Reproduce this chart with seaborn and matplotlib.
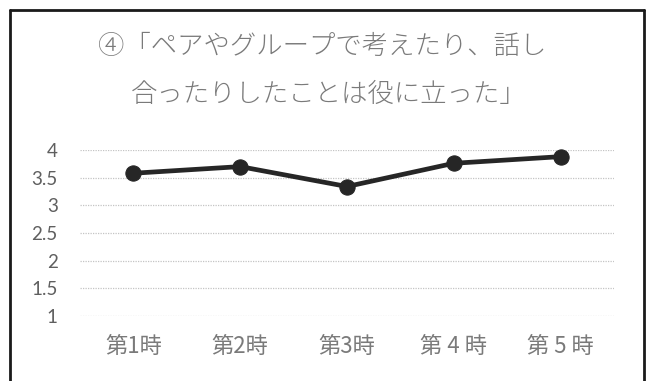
import matplotlib
matplotlib.use("Agg")
import matplotlib.pyplot as plt
from matplotlib.lines import Line2D
import seaborn as sns
import pandas as pd

sessions = ["第1時", "第2時", "第3時", "第 4 時", "第 5 時"]
scores = [3.58, 3.70, 3.34, 3.76, 3.88]
y_ticks = [1, 1.5, 2, 2.5, 3, 3.5, 4]
y_tick_labels = ["1", "1.5", "2", "2.5", "3", "3.5", "4"]
title_lines = ["④「ペアやグループで考えたり、話し", "合ったりしたことは役に立った」"]

sns.set_theme(style="white")
plt.rcParams["font.family"] = ["Noto Sans CJK JP", "DejaVu Sans"]

W, H = 647, 381
fig = plt.figure(figsize=(W / 100, H / 100), dpi=100)
ax = fig.add_axes([80 / W, 1 - 316 / H, (614 - 80) / W, (316 - 150) / H])

df = pd.DataFrame({"session": sessions, "score": scores})
df["pos"] = range(len(df))
sns.lineplot(data=df, x="pos", y="score", ax=ax, color="#262626",
             linewidth=3.4, marker="o", markersize=11,
             markeredgecolor="#262626", clip_on=False, zorder=3)

ax.set_xlim(-0.5, len(sessions) - 0.5)
ax.set_ylim(1, 4)
ax.set_yticks(y_ticks)
ax.set_yticklabels(y_tick_labels)
ax.set_xticks(range(len(sessions)))
ax.set_xticklabels(sessions)
ax.set_xlabel("")
ax.set_ylabel("")
ax.tick_params(axis="y", length=0, pad=16, labelsize=13.5, labelcolor="#5f5f5f")
ax.tick_params(axis="x", length=0, pad=14, labelsize=16, labelcolor="#7a7a7a")
for lab in ax.get_yticklabels():
    lab.set_fontfamily(["Lato", "DejaVu Sans"])

for y in y_ticks:
    ax.axhline(y, color="#c4c4c4", linewidth=0.9, linestyle=(0, (1, 1)), zorder=1)
for s in ax.spines.values():
    s.set_visible(False)

fig.text(322 / W, 1 - 46 / H, title_lines[0], ha="center", va="center",
         fontsize=19, color="#7a7a7a", fontweight="light")
fig.text(329 / W, 1 - 94 / H, title_lines[1], ha="center", va="center",
         fontsize=19, color="#7a7a7a", fontweight="light")

# chart frame (left, top, right edges)
x0, x1, y0 = 10 / W, 644 / W, 1 - 10 / H
for xs, ys in [([x0, x0], [0, y0]), ([x0, x1], [y0, y0]), ([x1, x1], [y0, 0])]:
    fig.add_artist(Line2D(xs, ys, transform=fig.transFigure,
                          color="#1a1a1a", linewidth=2))

fig.savefig("out.png", dpi=100, facecolor="white")
